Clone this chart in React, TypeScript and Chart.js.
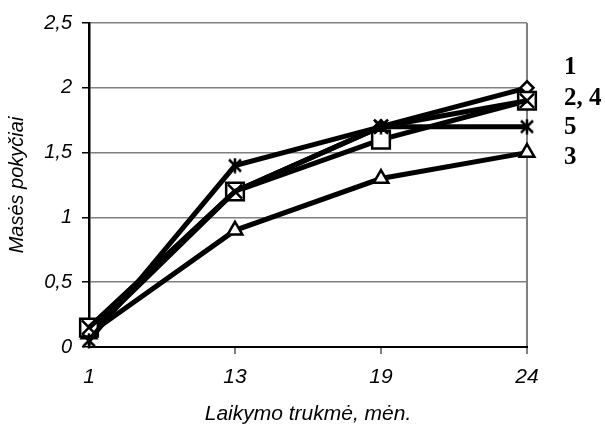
import React, { useEffect, useRef } from "react";
import { Chart, registerables } from "chart.js";

Chart.register(...registerables);

const xLabels = ["1", "13", "19", "24"];
const series1 = [0.1, 1.2, 1.7, 2.0];
const series2 = [0.15, 1.2, 1.6, 1.9];
const series3 = [0.1, 0.9, 1.3, 1.5];
const series4 = [0.15, 1.2, 1.7, 1.9];
const series5 = [0.05, 1.4, 1.7, 1.7];
const endLabels = ["1", "2, 4", "5", "3"];
const endLabelValues = [2.16, 1.92, 1.69, 1.46];
const yTitle = "Masės pokyčiai";
const xTitle = "Laikymo trukmė, mėn.";

function makeAsterisk(): HTMLCanvasElement {
  const c = document.createElement("canvas");
  c.width = 16;
  c.height = 16;
  const g = c.getContext("2d")!;
  g.strokeStyle = "#000";
  g.lineWidth = 2.5;
  g.beginPath();
  g.moveTo(2, 2);
  g.lineTo(14, 14);
  g.moveTo(14, 2);
  g.lineTo(2, 14);
  g.moveTo(8, 0.5);
  g.lineTo(8, 15.5);
  g.stroke();
  return c;
}

export default function App() {
  const ref = useRef<HTMLCanvasElement>(null);
  useEffect(() => {
    if (!ref.current) return;
    const asterisk = makeAsterisk();
    const base = {
      borderColor: "#000",
      borderWidth: 5,
      pointBorderColor: "#000",
      pointBackgroundColor: "#fff",
      pointBorderWidth: 2.5,
      tension: 0,
      clip: false as any,
    };
    const tickFontX = { family: "Liberation Sans", style: "italic" as const, size: 21 };
    const tickFontY = { family: "Liberation Sans", style: "italic" as const, size: 20 };
    const endLabelPlugin = {
      id: "endLabels",
      afterDraw(chart: any) {
        const { ctx, chartArea, scales } = chart;
        ctx.save();
        ctx.font = 'bold 25px "Liberation Serif"';
        ctx.fillStyle = "#000";
        ctx.textAlign = "left";
        ctx.textBaseline = "middle";
        endLabels.forEach((t, i) => {
          ctx.fillText(t, chartArea.right + 37, scales.y.getPixelForValue(endLabelValues[i]));
        });
        ctx.restore();
      },
    };
    const chart = new Chart(ref.current, {
      type: "line",
      data: {
        labels: xLabels,
        datasets: [
          { ...base, label: "5", data: series5, pointStyle: asterisk as any, pointRadius: 8 },
          { ...base, label: "4", data: series4, pointStyle: "crossRot", pointRadius: 10 },
          { ...base, label: "2", data: series2, pointStyle: "rect", pointRadius: 12.5 },
          { ...base, label: "1", data: series1, pointStyle: "rectRot", pointRadius: 6.5 },
          { ...base, label: "3", data: series3, pointStyle: "triangle", pointRadius: 8.5 },
        ],
      },
      options: {
        responsive: false,
        animation: false,
        layout: { padding: { left: 0, top: 23, right: 78, bottom: 0 } },
        plugins: { legend: { display: false }, tooltip: { enabled: false } },
        scales: {
          x: {
            type: "category",
            offset: false,
            afterFit: (s: any) => {
              s.height = 80;
            },
            grid: {
              color: (c: any) => (c.index === 3 ? "#808080" : "transparent"),
              tickColor: (c: any) => (c.index === 0 ? "transparent" : "#808080"),
              tickLength: 7,
              lineWidth: 2,
            },
            border: { color: "#000", width: 2 },
            ticks: {
              color: "#000",
              padding: 11,
              maxRotation: 0,
              font: tickFontX,
            },
            title: {
              display: true,
              text: xTitle,
              color: "#000",
              padding: { top: 0, bottom: 0 },
              font: tickFontX,
            },
          },
          y: {
            min: 0,
            max: 2.5,
            afterFit: (s: any) => {
              s.width = 89;
            },
            grid: {
              color: "#808080",
              tickColor: "#000",
              tickLength: 7,
              lineWidth: 1.5,
            },
            border: { color: "#000", width: 2.5 },
            ticks: {
              stepSize: 0.5,
              color: "#000",
              padding: 10,
              font: tickFontY,
              callback: (v: any) => String(v).replace(".", ","),
            },
            title: {
              display: true,
              text: yTitle,
              color: "#000",
              padding: { top: 5, bottom: 0 },
              font: tickFontY,
            },
          },
        },
      },
      plugins: [endLabelPlugin],
    });
    return () => chart.destroy();
  }, []);
  return (
    <div style={{ position: "fixed", left: 0, top: 0, width: 605, height: 427, background: "#fff" }}>
      <canvas ref={ref} width={605} height={427} />
    </div>
  );
}
